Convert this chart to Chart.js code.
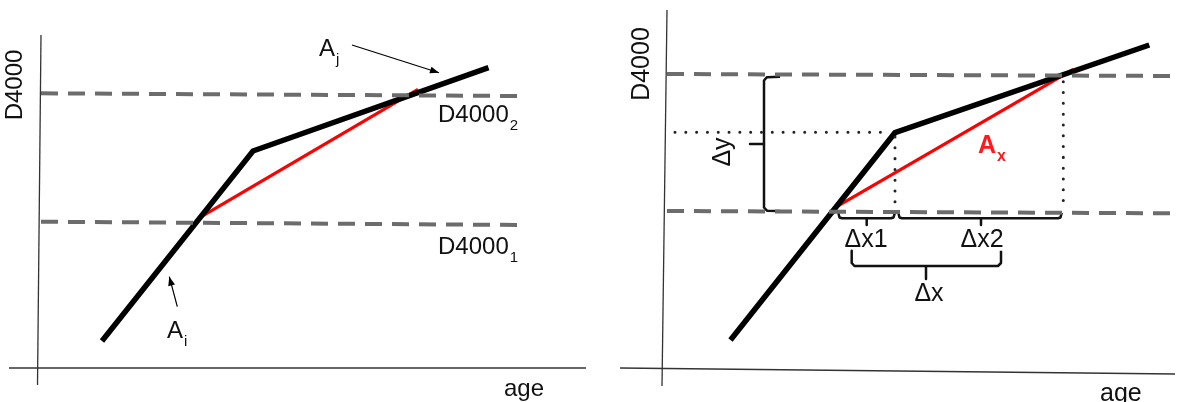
<!DOCTYPE html>
<html>
<head>
<meta charset="utf-8">
<script src="https://cdn.jsdelivr.net/npm/chart.js@4.4.1/dist/chart.umd.min.js"></script>
<style>
  html, body { margin: 0; padding: 0; background: #ffffff; }
  #wrap { position: relative; width: 1177px; height: 402px; overflow: hidden; }
  canvas { position: absolute; top: 0; }
  #left { left: 0; }
  #right { left: 590px; }
</style>
</head>
<body>
<div id="wrap">
  <canvas id="left" width="590" height="402"></canvas>
  <canvas id="right" width="587" height="402"></canvas>
</div>
<script>
// ---------- Left panel (arbitrary units: age, D4000; origin at the axes crossing) ----------
const L_axisY   = [{x: 3, y: 333}, {x: -0.5, y: -17}];
const L_axisX   = [{x: -29, y: 0}, {x: 548, y: 0}];
const L_track   = [{x: 64, y: 27}, {x: 215, y: 217}, {x: 450.5, y: 300.3}];
const L_chord   = [{x: 162, y: 150.7}, {x: 380, y: 278.7}];
const L_level2  = [{x: 3, y: 274.7}, {x: 483.6, y: 272}];
const L_level1  = [{x: 3, y: 146.3}, {x: 483, y: 143}];
const L_arrowJ  = [{x: 314, y: 323}, {x: 401, y: 295.3}];
const L_arrowI  = [{x: 139.3, y: 61.3}, {x: 131.3, y: 91.3}];
const L_labels  = [
  {text: 'D4000', x: -23, y: 283, rot: true, size: 24},
  {text: 'age', x: 466, y: -28, size: 24},
  {text: 'A', sub: 'j', x: 281, y: 312, size: 24},
  {text: 'D4000', sub: '2', x: 400, y: 246, size: 24},
  {text: 'D4000', sub: '1', x: 400, y: 114, size: 24},
  {text: 'A', sub: 'i', x: 129, y: 30, size: 24}
];

// ---------- Right panel ----------
const R_axisY   = [{x: 3, y: 360}, {x: -2, y: -16}];
const R_axisX   = [{x: -44, y: 2}, {x: 511, y: -4}];
const R_track   = [{x: 66.5, y: 30}, {x: 231, y: 237.3}, {x: 485.3, y: 325}];
const R_chord   = [{x: 172.7, y: 163.3}, {x: 409.3, y: 300.7}];
const R_level2  = [{x: 3, y: 296}, {x: 513, y: 294}];
const R_level1  = [{x: 3, y: 159}, {x: 513, y: 156.7}];
const R_dotH    = [{x: 11, y: 237.7}, {x: 226, y: 237.7}];
const R_dotV1   = [{x: 231, y: 233}, {x: 231, y: 161}];
const R_dotV2   = [{x: 399.3, y: 288.3}, {x: 399.3, y: 161}];
const R_braceY  = [{x: 116, y: 293.3}, {x: 103, y: 292.8}, {x: 100, y: 289.5}, {x: 100, y: 226},
                   {x: 86, y: 226}, {x: 100, y: 226}, {x: 100, y: 162.5}, {x: 103, y: 159.3}, {x: 116, y: 159}];
const R_braceX1 = [{x: 174.3, y: 157.3}, {x: 175.5, y: 152.5}, {x: 178, y: 151.7}, {x: 202.7, y: 151.7},
                   {x: 202.7, y: 145}, {x: 202.7, y: 151.7}, {x: 227, y: 151.7}, {x: 229.5, y: 152.5}, {x: 231, y: 157.3}];
const R_braceX2 = [{x: 234.3, y: 157.3}, {x: 235.5, y: 152.5}, {x: 238, y: 151.7}, {x: 317, y: 151.7},
                   {x: 317, y: 145}, {x: 317, y: 151.7}, {x: 394, y: 151.7}, {x: 396.5, y: 152.5}, {x: 397.7, y: 157.3}];
const R_braceX  = [{x: 187.7, y: 119.3}, {x: 187.7, y: 107}, {x: 190.5, y: 104}, {x: 262, y: 104},
                   {x: 262, y: 91}, {x: 262, y: 104}, {x: 334, y: 104}, {x: 337, y: 107}, {x: 337, y: 119.3}];
const R_labels  = [
  {text: 'D4000', x: -22, y: 306, rot: true, size: 25},
  {text: 'age', x: 436, y: -31, size: 25},
  {text: 'Δy', x: 59, y: 218, rot: true, size: 25},
  {text: 'Δx1', x: 202, y: 123, align: 'center', size: 25},
  {text: 'Δx2', x: 318, y: 123, align: 'center', size: 25},
  {text: 'Δx', x: 265, y: 69, align: 'center', size: 25},
  {text: 'A', sub: 'x', x: 314, y: 217, size: 25, color: '#ff1a1a', bold: true}
];

// ---------- styles ----------
const FONT = '"Liberation Sans", Arial, Helvetica, sans-serif';
const GREY = '#6c6c6c';

function ds(data, opts) {
  return Object.assign({
    data: data, showLine: true, pointRadius: 0, pointHoverRadius: 0,
    tension: 0, fill: false, clip: false, borderColor: '#000', borderWidth: 2,
    borderJoinStyle: 'round', borderCapStyle: 'butt'
  }, opts);
}

const annotatePlugin = {
  id: 'annotate',
  afterDatasetsDraw(chart, args, opts) {
    const ctx = chart.ctx;
    const xs = chart.scales.x, ys = chart.scales.y;
    const px = v => xs.getPixelForValue(v);
    const py = v => ys.getPixelForValue(v);
    // arrowheads
    (opts.arrows || []).forEach(a => {
      const p0 = a[a.length - 2], p1 = a[a.length - 1];
      const x0 = px(p0.x), y0 = py(p0.y), x1 = px(p1.x), y1 = py(p1.y);
      const ang = Math.atan2(y1 - y0, x1 - x0);
      const L = 9, W = 3.5;
      ctx.save();
      ctx.fillStyle = '#000';
      ctx.beginPath();
      ctx.moveTo(x1, y1);
      ctx.lineTo(x1 - L * Math.cos(ang) + W * Math.sin(ang), y1 - L * Math.sin(ang) - W * Math.cos(ang));
      ctx.lineTo(x1 - L * Math.cos(ang) - W * Math.sin(ang), y1 - L * Math.sin(ang) + W * Math.cos(ang));
      ctx.closePath();
      ctx.fill();
      ctx.restore();
    });
    // labels
    (opts.labels || []).forEach(l => {
      const x = px(l.x), y = py(l.y);
      const weight = l.bold ? 'bold ' : '';
      ctx.save();
      ctx.fillStyle = l.color || '#111';
      ctx.font = weight + l.size + 'px ' + FONT;
      if (l.rot) {
        ctx.translate(x, y);
        ctx.rotate(-Math.PI / 2);
        ctx.textAlign = 'center';
        ctx.textBaseline = 'middle';
        ctx.fillText(l.text, 0, 0);
      } else {
        ctx.textAlign = l.align || 'left';
        ctx.textBaseline = 'alphabetic';
        ctx.fillText(l.text, x, y);
        if (l.sub) {
          const w = ctx.measureText(l.text).width;
          const startX = (l.align === 'center') ? x + w / 2 : x + w;
          ctx.font = weight + Math.round(l.size * 0.62) + 'px ' + FONT;
          ctx.textAlign = 'left';
          ctx.fillText(l.sub, startX + 1, y + 8);
        }
      }
      ctx.restore();
    });
  }
};

function makeChart(id, xr, yr, datasets, labels, arrows) {
  return new Chart(document.getElementById(id), {
    type: 'scatter',
    data: { datasets: datasets },
    options: {
      responsive: false, animation: false, devicePixelRatio: 1,
      layout: { padding: 0 },
      plugins: { legend: { display: false }, tooltip: { enabled: false }, annotate: { labels: labels, arrows: arrows } },
      scales: {
        x: { type: 'linear', min: xr[0], max: xr[1], display: false },
        y: { type: 'linear', min: yr[0], max: yr[1], display: false }
      },
      events: []
    },
    plugins: [annotatePlugin]
  });
}

makeChart('left', [-38, 552], [-34, 368], [
  ds(L_axisY, {borderColor: '#333', borderWidth: 1.3}),
  ds(L_axisX, {borderColor: '#333', borderWidth: 1.3}),
  ds(L_level2, {borderColor: GREY, borderWidth: 4, borderDash: [17, 10]}),
  ds(L_level1, {borderColor: GREY, borderWidth: 4, borderDash: [17, 10]}),
  ds(L_track, {borderColor: '#000', borderWidth: 5.5, borderJoinStyle: 'miter'}),
  ds(L_chord, {borderColor: '#ff0000', borderWidth: 3.2}),
  ds(L_arrowJ, {borderColor: '#000', borderWidth: 1.2}),
  ds(L_arrowI, {borderColor: '#000', borderWidth: 1.2})
], L_labels, [L_arrowJ, L_arrowI]);

makeChart('right', [-74, 513], [-32, 370], [
  ds(R_axisY, {borderColor: '#333', borderWidth: 1.3}),
  ds(R_axisX, {borderColor: '#333', borderWidth: 1.3}),
  ds(R_level2, {borderColor: GREY, borderWidth: 4, borderDash: [17, 10]}),
  ds(R_level1, {borderColor: GREY, borderWidth: 4, borderDash: [17, 10]}),
  ds(R_dotH, {borderColor: '#222', borderWidth: 3, borderDash: [0.01, 10.8], borderCapStyle: 'round'}),
  ds(R_dotV1, {borderColor: '#222', borderWidth: 3, borderDash: [0.01, 10.8], borderCapStyle: 'round'}),
  ds(R_dotV2, {borderColor: '#222', borderWidth: 3, borderDash: [0.01, 10.8], borderCapStyle: 'round'}),
  ds(R_track, {borderColor: '#000', borderWidth: 5.5, borderJoinStyle: 'miter'}),
  ds(R_chord, {borderColor: '#ff0000', borderWidth: 3.2}),
  ds(R_braceY, {borderColor: '#111', borderWidth: 2.5}),
  ds(R_braceX1, {borderColor: '#111', borderWidth: 2.5}),
  ds(R_braceX2, {borderColor: '#111', borderWidth: 2.5}),
  ds(R_braceX, {borderColor: '#111', borderWidth: 2.5})
], R_labels, []);
</script>
</body>
</html>
